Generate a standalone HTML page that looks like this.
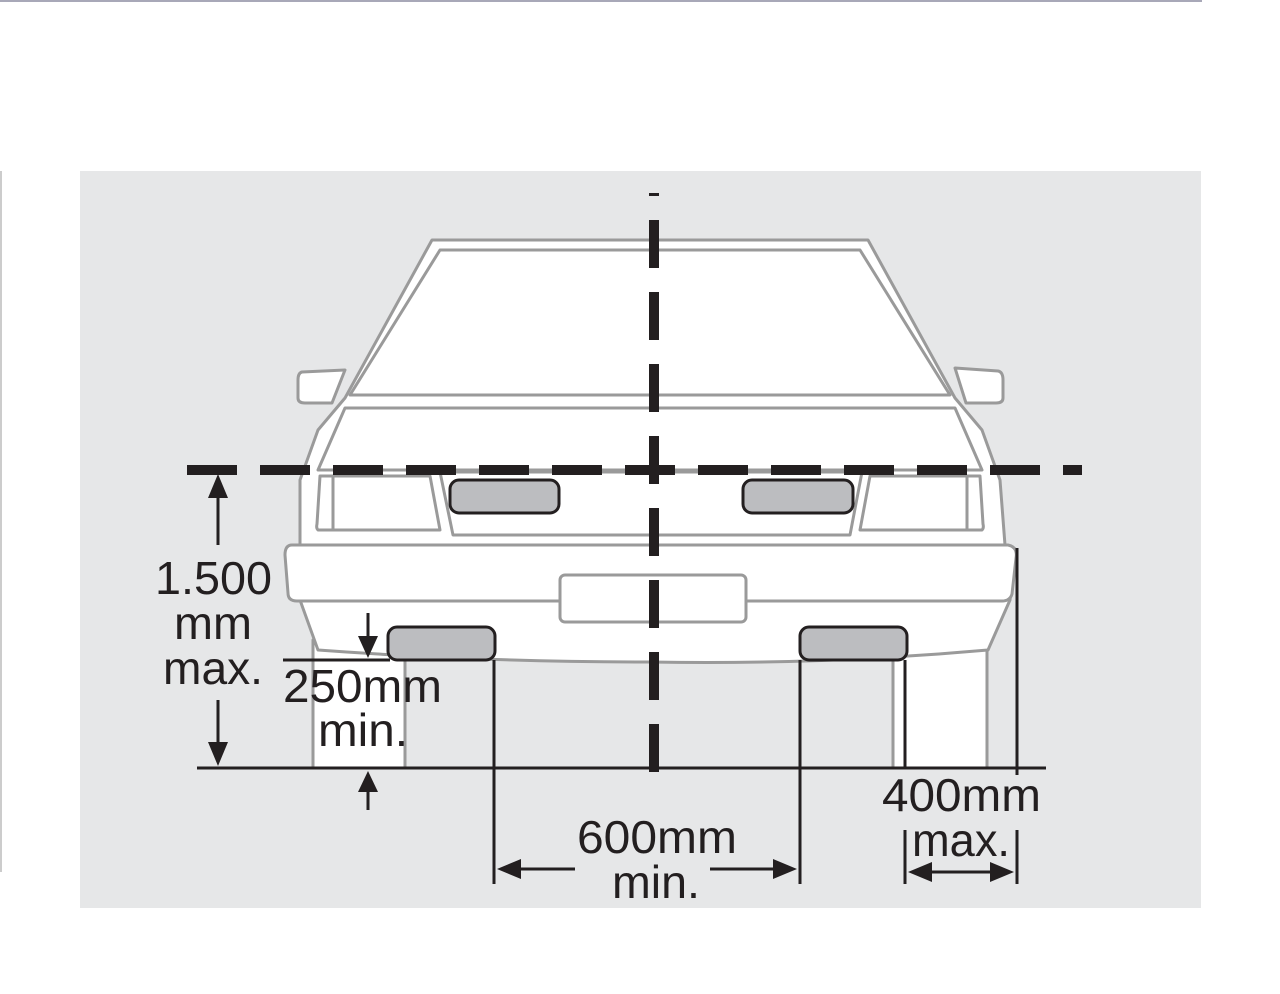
<!DOCTYPE html>
<html><head><style>
html,body{margin:0;padding:0;background:#fff;width:1280px;height:994px;overflow:hidden}
svg{display:block}
text{font-family:"Liberation Sans",Arial,sans-serif;font-size:46px;fill:#231f20}
</style></head><body>
<svg width="1280" height="994" viewBox="0 0 1280 994" xmlns="http://www.w3.org/2000/svg">
<line x1="0" y1="1" x2="1202" y2="1" stroke="#a8a8b8" stroke-width="2"/>
<line x1="1" y1="171" x2="1" y2="872" stroke="#999" stroke-width="1"/>
<rect x="80" y="171" width="1121" height="737" fill="#e6e7e8"/>
<g fill="#fff" stroke="#9a9a9a" stroke-width="3" stroke-linejoin="round">
<rect x="313" y="640" width="92" height="128"/>
<rect x="893" y="640" width="94" height="128"/>
<path d="M345,370 L302,372 Q298,373 298,380 L298,398 Q298,403 305,403 L332,403 Z"/>
<path d="M955,368 L998,371 Q1003,372 1003,380 L1003,398 Q1003,403 996,403 L966,403 Z"/>
<path d="M300,545 L300,480 L318,430 L345,398 L432,240 L868,240 L955,398 L982,430 L1000,480 L1005,545 L1015,555 L1010,600 L988,650 Q820,665 650,662 Q480,662 318,650 L300,600 Z"/>
<path d="M440,250 L860,250 L950,395 L350,395 Z" />
<path d="M345,408 L955,408 L982,470 L318,470 Z"/>
<path d="M320,476 L430,476 L440,530 L318,530 Q316,528 317,524 Z"/>
<line x1="333" y1="476" x2="333" y2="530"/>
<path d="M980,476 L870,476 L860,530 L982,530 Q984,528 983,524 Z"/>
<line x1="967" y1="476" x2="967" y2="530"/>
<path d="M440,472 L862,472 L850,535 L453,535 Z"/>
<path d="M292,545 L1008,545 Q1018,547 1016,558 L1012,594 Q1010,601 1002,601 L297,601 Q288,601 288,593 L285,555 Q285,545 292,545 Z"/>
<rect x="560" y="575" width="186" height="47" rx="5"/>
</g>
<g fill="#bcbdc0" stroke="#231f20" stroke-width="3">
<rect x="450" y="480" width="109" height="33" rx="9"/>
<rect x="743" y="480" width="110" height="33" rx="9"/>
<rect x="388" y="627" width="107" height="33" rx="9"/>
<rect x="800" y="627" width="107" height="33" rx="9"/>
</g>
<g stroke="#231f20" fill="none">
<line x1="187" y1="470" x2="1082" y2="470" stroke-width="10" stroke-dasharray="50,23"/>
<line x1="654" y1="193" x2="654" y2="196" stroke-width="10"/>
<line x1="654" y1="220" x2="654" y2="782" stroke-width="10" stroke-dasharray="48,24"/>
<g stroke-width="3">
<line x1="197" y1="768" x2="1046" y2="768"/>
<line x1="283" y1="660" x2="390" y2="660"/>
<line x1="494" y1="660" x2="494" y2="884"/>
<line x1="800" y1="660" x2="800" y2="884"/>
<line x1="905" y1="660" x2="905" y2="768"/>
<line x1="905" y1="830" x2="905" y2="884"/>
<line x1="1017" y1="548" x2="1017" y2="775"/>
<line x1="1017" y1="830" x2="1017" y2="884"/>
<line x1="218" y1="495" x2="218" y2="545"/>
<line x1="218" y1="700" x2="218" y2="748"/>
<line x1="368" y1="613" x2="368" y2="642"/>
<line x1="368" y1="785" x2="368" y2="810"/>
<line x1="515" y1="869" x2="575" y2="869"/>
<line x1="710" y1="869" x2="780" y2="869"/>
<line x1="925" y1="872" x2="997" y2="872"/>
</g>
</g>
<g fill="#231f20">
<polygon points="218,474 208,498 228,498"/>
<polygon points="218,766 208,742 228,742"/>
<polygon points="368,658 358,636 378,636"/>
<polygon points="368,771 358,792 378,792"/>
<polygon points="497,869 521,859 521,879"/>
<polygon points="797,869 773,859 773,879"/>
<polygon points="908,872 932,862 932,882"/>
<polygon points="1014,872 990,862 990,882"/>
</g>
<text x="155" y="594" textLength="117" lengthAdjust="spacingAndGlyphs">1.500</text>
<text x="174" y="639" textLength="78" lengthAdjust="spacingAndGlyphs">mm</text>
<text x="163" y="684" textLength="100" lengthAdjust="spacingAndGlyphs">max.</text>
<text x="283" y="702" textLength="159" lengthAdjust="spacingAndGlyphs">250mm</text>
<text x="318" y="746" textLength="90" lengthAdjust="spacingAndGlyphs">min.</text>
<text x="577" y="853" textLength="160" lengthAdjust="spacingAndGlyphs">600mm</text>
<text x="612" y="898" textLength="88" lengthAdjust="spacingAndGlyphs">min.</text>
<text x="882" y="811" textLength="159" lengthAdjust="spacingAndGlyphs">400mm</text>
<text x="912" y="856" textLength="98" lengthAdjust="spacingAndGlyphs">max.</text>
</svg>
</body></html>
